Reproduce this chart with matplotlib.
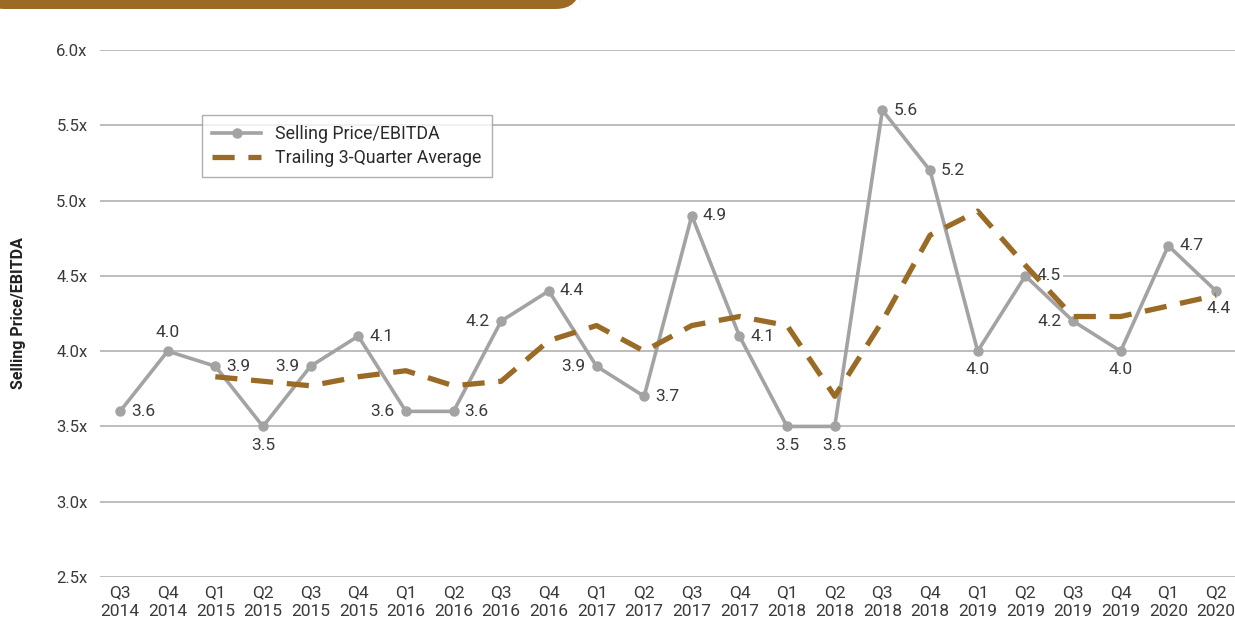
import matplotlib.pyplot as plt
from matplotlib.patches import FancyBboxPatch

plt.rcParams["font.family"] = ["Roboto", "DejaVu Sans"]

quarters = ["Q3\n2014", "Q4\n2014", "Q1\n2015", "Q2\n2015", "Q3\n2015", "Q4\n2015",
            "Q1\n2016", "Q2\n2016", "Q3\n2016", "Q4\n2016", "Q1\n2017", "Q2\n2017",
            "Q3\n2017", "Q4\n2017", "Q1\n2018", "Q2\n2018", "Q3\n2018", "Q4\n2018",
            "Q1\n2019", "Q2\n2019", "Q3\n2019", "Q4\n2019", "Q1\n2020", "Q2\n2020"]
multiple = [3.6, 4.0, 3.9, 3.5, 3.9, 4.1, 3.6, 3.6, 4.2, 4.4, 3.9, 3.7,
            4.9, 4.1, 3.5, 3.5, 5.6, 5.2, 4.0, 4.5, 4.2, 4.0, 4.7, 4.4]
# trailing 3-quarter average, first value at Q1 2015
trailing = [3.83, 3.80, 3.77, 3.83, 3.87, 3.77, 3.80, 4.07, 4.17, 4.00, 4.17,
            4.23, 4.17, 3.70, 4.20, 4.77, 4.93, 4.57, 4.23, 4.23, 4.30, 4.37]
yticks = [2.5, 3.0, 3.5, 4.0, 4.5, 5.0, 5.5, 6.0]

# label placement per point
place = ["r", "a", "r", "b", "l", "r", "l", "r", "l", "r", "l", "r",
         "r", "r", "b", "b", "r", "r", "b", "r", "l", "b", "r", "br"]

GRAY = "#a3a3a3"
BROWN = "#9a6b26"
TEXT = "#3a3a3a"

fig = plt.figure(figsize=(12.35, 6.4), dpi=100)
fig.patch.set_facecolor("white")
ax = fig.add_axes([100 / 1235, 63 / 640, 1135 / 1235, 527 / 640])

x = list(range(len(multiple)))
xt = x[2:]

for y in yticks:
    ax.axhline(y, color="#bdbdbd", lw=1.4, zorder=1)

ax.plot(x, multiple, color=GRAY, lw=2.6, marker="o", ms=6.5, zorder=4,
        label="Selling Price/EBITDA")
ax.plot(xt, trailing, color=BROWN, lw=3.8, dashes=(4.2, 2.6), zorder=5,
        label="Trailing 3-Quarter Average")

offsets = {"r": ((8, 0), "left", "center"),
           "l": ((-8, 0), "right", "center"),
           "a": ((0, 8), "center", "bottom"),
           "b": ((0, -8), "center", "top"),
           "br": ((2, -7), "center", "top")}
for xi, v, p in zip(x, multiple, place):
    (dx, dy), ha, va = offsets[p]
    ax.annotate(f"{v:.1f}", (xi, v), xytext=(dx, dy), textcoords="offset points",
                ha=ha, va=va, fontsize=12.5, color=TEXT, zorder=3,
                bbox=dict(boxstyle="square,pad=0.15", fc="white", ec="none"))

ax.set_xlim(-0.42, 23.4)
ax.set_ylim(2.5, 6.0)
ax.set_yticks(yticks)
ax.set_yticklabels([f"{t:.1f}x" for t in yticks])
ax.set_xticks(x)
ax.set_xticklabels(quarters, linespacing=1.3)
ax.tick_params(axis="both", length=0, labelcolor=TEXT)
ax.tick_params(axis="y", pad=9, labelsize=12)
ax.tick_params(axis="x", pad=6, labelsize=12.5)
for s in ax.spines.values():
    s.set_visible(False)
ax.set_ylabel("Selling Price/EBITDA", fontsize=11.5, fontweight="bold",
              color="#222222")
ax.yaxis.set_label_coords(-74 / 1135, 0.5)

leg = ax.legend(loc="upper left", bbox_to_anchor=(102 / 1135, 1 - 65 / 527),
                frameon=True, fancybox=False, fontsize=12.75, handlelength=2.8,
                borderpad=0.55, labelspacing=0.36, handletextpad=0.8,
                borderaxespad=0)
leg.get_frame().set_edgecolor("#9a9a9a")
leg.get_frame().set_linewidth(1.0)
for t in leg.get_texts():
    t.set_color("#2a2a2a")

# header tab across the top-left
tab = FancyBboxPatch((-20 / 1235, 1 - 9 / 640), 600 / 1235, 30 / 640,
                     boxstyle="round,pad=0,rounding_size=0.02",
                     transform=fig.transFigure, fc="#9b6a25", ec="none",
                     mutation_aspect=1235 / 640)
fig.patches.append(tab)

fig.savefig("out.png", dpi=100)
